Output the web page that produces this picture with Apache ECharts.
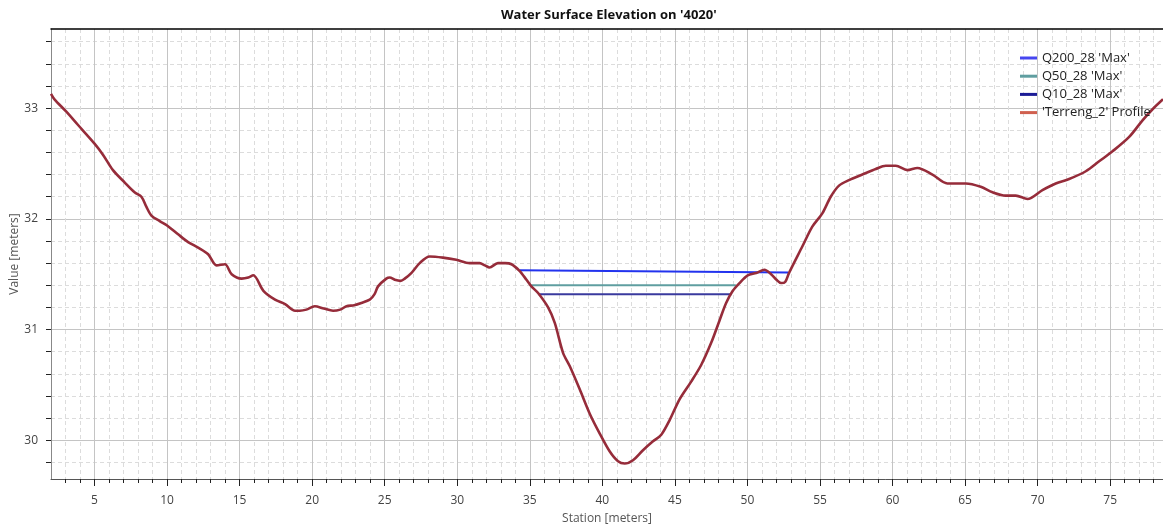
<!DOCTYPE html>
<html>
<head>
<meta charset="utf-8">
<script src="https://cdn.jsdelivr.net/npm/echarts@6/dist/echarts.min.js"></script>
<style>
  html, body { margin: 0; padding: 0; background: #ffffff; }
  #chart { width: 1163px; height: 531px; }
</style>
</head>
<body>
<div id="chart"></div>
<script>
// Terrain profile along the cross section (station in m, elevation in m)
const stations = [
  2.0, 2.24, 3.04, 3.85, 5.0, 5.58, 6.27, 7.07, 7.76, 8.23, 8.57, 8.92, 9.49, 10.0,
  10.76, 11.45, 12.14, 12.83, 13.41, 13.99, 14.45, 15.14, 15.6, 15.94, 16.64, 17.44,
  18.13, 18.82, 19.15, 19.6, 20.18, 20.8, 21.44, 21.93, 22.36, 22.9, 23.39, 23.97,
  24.3, 24.54, 25.11, 25.35, 25.69, 26.1, 26.38, 26.83, 27.41, 28.1, 29.01, 29.93,
  30.85, 31.54, 31.9, 32.22, 32.8, 33.3, 33.74, 34.29, 34.77, 35.11, 35.57, 36.26,
  36.72, 37.29, 37.75, 38.44, 39.13, 39.82, 40.5, 41.08, 41.54, 42.11, 42.8, 43.49,
  44.06, 44.63, 45.32, 46.12, 46.81, 47.5, 48.07, 48.53, 48.99, 49.45, 50.02, 50.6,
  51.17, 51.63, 52.0, 52.32, 52.6, 52.86, 53.78, 54.47, 55.16, 55.74, 56.31, 57.0,
  57.92, 58.84, 59.53, 60.22, 61.02, 61.71, 62.75, 63.78, 65.05, 66.08, 66.89, 67.8,
  68.49, 69.3, 70.33, 71.25, 72.17, 73.32, 74.24, 75.16, 76.31, 77.23, 77.92, 78.64
];
const elevations = [
  33.13, 33.08, 32.97, 32.85, 32.68, 32.58, 32.44, 32.33, 32.24, 32.20, 32.11, 32.03, 31.98, 31.94,
  31.86, 31.79, 31.74, 31.68, 31.58, 31.59, 31.50, 31.46, 31.47, 31.49, 31.35, 31.27,
  31.23, 31.17, 31.17, 31.18, 31.21, 31.19, 31.17, 31.18, 31.21, 31.22, 31.24, 31.27,
  31.32, 31.39, 31.46, 31.47, 31.45, 31.44, 31.46, 31.51, 31.60, 31.66, 31.65, 31.63,
  31.60, 31.60, 31.58, 31.56, 31.60, 31.60, 31.59, 31.53, 31.45, 31.39, 31.33, 31.20,
  31.06, 30.79, 30.67, 30.46, 30.24, 30.06, 29.90, 29.81, 29.79, 29.82, 29.91, 29.99,
  30.05, 30.18, 30.37, 30.53, 30.68, 30.88, 31.08, 31.24, 31.35, 31.42, 31.49, 31.51,
  31.54, 31.50, 31.45, 31.42, 31.43, 31.51, 31.75, 31.93, 32.05, 32.20, 32.30, 32.35,
  32.40, 32.45, 32.48, 32.48, 32.44, 32.46, 32.40, 32.32, 32.32, 32.29, 32.24, 32.21,
  32.21, 32.18, 32.26, 32.32, 32.36, 32.43, 32.52, 32.61, 32.74, 32.89, 32.99, 33.08
];

// Maximum water surface lines for each flow profile
const q200Stations = [34.3, 52.8];
const q200Levels = [31.535, 31.515];
const q50Stations = [35.1, 49.2];
const q50Levels = [31.40, 31.40];
const q10Stations = [35.6, 48.9];
const q10Levels = [31.32, 31.32];

// Axis labels and ticks
const stationLabels = [5, 10, 15, 20, 25, 30, 35, 40, 45, 50, 55, 60, 65, 70, 75];
const stationMinorTicks = [3, 4, 5, 6, 7, 8, 9, 10, 11, 12, 13, 14, 15, 16, 17, 18, 19, 20,
  21, 22, 23, 24, 25, 26, 27, 28, 29, 30, 31, 32, 33, 34, 35, 36, 37, 38, 39, 40, 41, 42,
  43, 44, 45, 46, 47, 48, 49, 50, 51, 52, 53, 54, 55, 56, 57, 58, 59, 60, 61, 62, 63, 64,
  65, 66, 67, 68, 69, 70, 71, 72, 73, 74, 75, 76, 77, 78];
const elevationLabels = [30, 31, 32, 33];
const elevationTicks = [29.8, 30.0, 30.2, 30.4, 30.6, 30.8, 31.0, 31.2, 31.4, 31.6, 31.8,
  32.0, 32.2, 32.4, 32.6, 32.8, 33.0, 33.2, 33.4, 33.6];

const X_MIN = 2, X_MAX = 78.64;
const Y_MIN = 29.65, Y_MAX = 33.715;

const pairs = (xs, ys) => xs.map((x, i) => [x, ys[i]]);

const FONT = '"Open Sans", "Noto Sans", sans-serif';
const MINOR = '#dcdcdc';
const MAJOR = '#c4c4c4';

const chart = echarts.init(document.getElementById('chart'), null, { renderer: 'canvas' });

chart.setOption({
  animation: false,
  backgroundColor: '#ffffff',
  title: {
    text: "Water Surface Elevation on '4020'",
    left: 496,
    top: 4,
    textStyle: { fontFamily: FONT, fontSize: 13, fontWeight: 'bold', color: '#111' }
  },
  legend: {
    orient: 'vertical',
    left: 1015,
    top: 46,
    icon: 'rect',
    itemWidth: 17,
    itemHeight: 3,
    itemGap: 4.2,
    textStyle: { fontFamily: FONT, fontSize: 13, color: '#222', lineHeight: 14 },
    data: [
      { name: "Q200_28 'Max'", itemStyle: { color: '#4646f0' } },
      { name: "Q50_28 'Max'", itemStyle: { color: '#5f9ea0' } },
      { name: "Q10_28 'Max'", itemStyle: { color: '#1c1c96' } },
      { name: "'Terreng_2' Profile", itemStyle: { color: '#d0604f' } }
    ]
  },
  grid: { left: 51, right: 0, top: 29, bottom: 52, containLabel: false, outerBoundsMode: 'none' },
  xAxis: [
    {
      type: 'value', position: 'bottom', min: X_MIN, max: X_MAX,
      name: 'Station [meters]', nameLocation: 'middle', nameGap: 34,
      nameTextStyle: { fontFamily: FONT, fontSize: 12, color: '#555' },
      axisLine: { show: true, lineStyle: { color: '#555', width: 1 } },
      axisTick: { show: true, customValues: stationMinorTicks, length: 4, lineStyle: { color: '#222' } },
      axisLabel: {
        customValues: stationLabels, margin: 16,
        fontFamily: FONT, fontSize: 12, color: '#444'
      },
      splitLine: { show: true, lineStyle: { color: MINOR, type: [4, 3], width: 1 } }
    },
    {
      type: 'value', position: 'bottom', min: X_MIN, max: X_MAX,
      axisLine: { show: false },
      axisTick: { show: true, customValues: stationLabels, length: 7, lineStyle: { color: '#222' } },
      axisLabel: { show: false },
      splitLine: { show: true, lineStyle: { color: MAJOR, width: 1 } }
    },
    {
      type: 'value', position: 'top', min: X_MIN, max: X_MAX,
      axisLine: { show: true, lineStyle: { color: '#000', width: 1.5 } },
      axisTick: { show: false }, axisLabel: { show: false }, splitLine: { show: false }
    }
  ],
  yAxis: [
    {
      type: 'value', position: 'left', min: Y_MIN, max: Y_MAX,
      name: 'Value [meters]', nameLocation: 'middle', nameGap: 30, nameMoveOverlap: false,
      nameTextStyle: { fontFamily: FONT, fontSize: 12, color: '#555' },
      axisLine: { show: true, lineStyle: { color: '#888', width: 1 } },
      axisTick: { show: true, customValues: elevationTicks, length: 5, lineStyle: { color: '#222' } },
      axisLabel: {
        customValues: elevationLabels, margin: 13,
        fontFamily: FONT, fontSize: 12, color: '#444'
      },
      splitLine: { show: true, lineStyle: { color: MINOR, type: [4, 3], width: 1 } }
    },
    {
      type: 'value', position: 'left', min: Y_MIN, max: Y_MAX,
      axisLine: { show: false },
      axisTick: { show: true, customValues: elevationLabels, length: 5, lineStyle: { color: '#222' } },
      axisLabel: { show: false },
      splitLine: { show: true, lineStyle: { color: MAJOR, width: 1 } }
    }
  ],
  series: [
    {
      name: "Q200_28 'Max'", type: 'line', xAxisIndex: 0, yAxisIndex: 0,
      data: pairs(q200Stations, q200Levels), symbol: 'none', silent: true,
      lineStyle: { color: '#2233ee', width: 2 }, itemStyle: { color: '#4646f0' }
    },
    {
      name: "Q50_28 'Max'", type: 'line', xAxisIndex: 0, yAxisIndex: 0,
      data: pairs(q50Stations, q50Levels), symbol: 'none', silent: true,
      lineStyle: { color: '#5f9ea0', width: 2 }, itemStyle: { color: '#5f9ea0' }
    },
    {
      name: "Q10_28 'Max'", type: 'line', xAxisIndex: 0, yAxisIndex: 0,
      data: pairs(q10Stations, q10Levels), symbol: 'none', silent: true,
      lineStyle: { color: '#3a3a9e', width: 2 }, itemStyle: { color: '#1c1c96' }
    },
    {
      name: "'Terreng_2' Profile", type: 'line', xAxisIndex: 0, yAxisIndex: 0,
      data: pairs(stations, elevations), symbol: 'none', silent: true, smooth: 0.3,
      lineStyle: { color: '#962c3a', width: 2.6 }, itemStyle: { color: '#d0604f' }
    }
  ]
});
</script>
</body>
</html>
